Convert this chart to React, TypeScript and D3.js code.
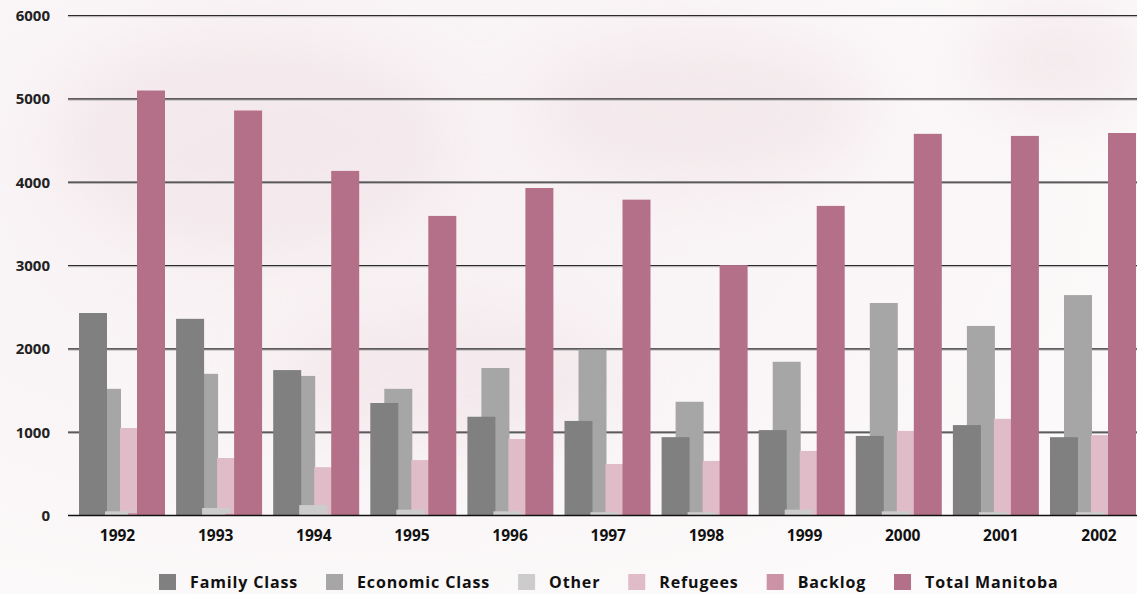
import React, { useEffect, useRef } from 'react';
import * as d3 from 'd3';

const years = ['1992', '1993', '1994', '1995', '1996', '1997', '1998', '1999', '2000', '2001', '2002'];

const familyClass = [2430, 2360, 1745, 1350, 1185, 1135, 940, 1025, 955, 1085, 940];
const economicClass = [1520, 1700, 1675, 1520, 1770, 1990, 1365, 1845, 2550, 2275, 2645];
const other = [50, 90, 125, 70, 50, 40, 40, 70, 50, 40, 40];
const refugees = [1050, 690, 580, 665, 918, 618, 655, 775, 1015, 1160, 965];
const backlog = [30, 20, 0, 0, 0, 0, 0, 0, 0, 0, 0];
const totalManitoba = [5100, 4860, 4135, 3595, 3930, 3790, 3005, 3715, 4580, 4555, 4590];

const yTicks = [0, 1000, 2000, 3000, 4000, 5000, 6000];

const series = [
  { name: 'Family Class', values: familyClass, color: '#808080' },
  { name: 'Economic Class', values: economicClass, color: '#a6a6a6' },
  { name: 'Other', values: other, color: '#cccccc' },
  { name: 'Refugees', values: refugees, color: '#dfbcc8' },
  { name: 'Backlog', values: backlog, color: '#cc93a7' },
  { name: 'Total Manitoba', values: totalManitoba, color: '#b57089' },
];

// stacking order of the overlapping bars (back to front)
const drawOrder = ['Economic Class', 'Family Class', 'Refugees', 'Other', 'Backlog', 'Total Manitoba'];

const W = 1137;
const H = 594;
const FONT = "'Open Sans', 'DejaVu Sans', sans-serif";

export default function App() {
  const svgRef = useRef<SVGSVGElement>(null);

  useEffect(() => {
    document.body.style.margin = '0';
    const svg = d3.select(svgRef.current);
    svg.selectAll('*').remove();

    // background, faint leafy texture
    const defs = svg.append('defs');
    const grad = defs.append('radialGradient').attr('id', 'bgGrad').attr('cx', '30%').attr('cy', '35%').attr('r', '80%');
    grad.append('stop').attr('offset', '0%').attr('stop-color', '#f7f0f2');
    grad.append('stop').attr('offset', '60%').attr('stop-color', '#faf6f7');
    grad.append('stop').attr('offset', '100%').attr('stop-color', '#fcfafa');
    defs.append('filter').attr('id', 'blur')
      .attr('x', '-50%').attr('y', '-50%').attr('width', '200%').attr('height', '200%')
      .append('feGaussianBlur').attr('stdDeviation', 30);
    svg.append('rect').attr('width', W).attr('height', H).attr('fill', 'url(#bgGrad)');

    const leaves = svg.append('g').attr('fill', '#f1e3e7').attr('opacity', 0.6).attr('filter', 'url(#blur)');
    leaves.append('ellipse').attr('cx', 250).attr('cy', 140).attr('rx', 200).attr('ry', 110);
    leaves.append('ellipse').attr('cx', 700).attr('cy', 110).attr('rx', 170).attr('ry', 80);
    leaves.append('ellipse').attr('cx', 1060).attr('cy', 60).attr('rx', 90).attr('ry', 60);
    leaves.append('ellipse').attr('cx', 450).attr('cy', 380).attr('rx', 180).attr('ry', 70);

    const y = d3.scaleLinear().domain([0, 6000]).range([515.5, 15.5]);
    const x = d3.scaleBand().domain(years).range([79, 79 + years.length * 97.1]).paddingInner(0);
    const xLabel = d3.scalePoint().domain(years).range([117.5, 1099]);
    const offset = d3.scaleOrdinal<string, number>()
      .domain(series.map((s) => s.name))
      .range([0, 14, 26, 41, 49, 58]);
    const barW = 28;

    // gridlines
    const grid = svg.append('g');
    yTicks.filter((t) => t > 0).forEach((t) => {
      grid.append('line')
        .attr('x1', 68).attr('x2', W).attr('y1', y(t) + 1.2).attr('y2', y(t) + 1.2)
        .attr('stroke', '#b0acad').attr('stroke-width', 1);
      grid.append('line')
        .attr('x1', 68).attr('x2', W).attr('y1', y(t)).attr('y2', y(t))
        .attr('stroke', '#2b2b2b').attr('stroke-width', 1.1);
    });

    // bars
    const bars = svg.append('g');
    drawOrder.forEach((name) => {
      const s = series.find((d) => d.name === name)!;
      bars.append('g')
        .selectAll('rect')
        .data(s.values.map((v, i) => ({ v, year: years[i] })))
        .enter()
        .append('rect')
        .attr('x', (d) => (x(d.year) as number) + offset(name))
        .attr('width', barW)
        .attr('y', (d) => y(d.v))
        .attr('height', (d) => y(0) - y(d.v))
        .attr('fill', s.color);
    });

    // baseline
    svg.append('line')
      .attr('x1', 68).attr('x2', W).attr('y1', y(0)).attr('y2', y(0))
      .attr('stroke', '#111').attr('stroke-width', 1.6);

    // y labels
    svg.append('g')
      .selectAll('text')
      .data(yTicks)
      .enter()
      .append('text')
      .attr('x', 50)
      .attr('y', (d) => y(d))
      .attr('dy', '0.36em')
      .attr('text-anchor', 'end')
      .attr('font-family', FONT)
      .attr('font-weight', 700)
      .attr('font-size', 15)
      .attr('fill', '#222')
      .text((d) => d);

    // x labels
    svg.append('g')
      .selectAll('text')
      .data(years)
      .enter()
      .append('text')
      .attr('x', (d) => xLabel(d) as number)
      .attr('y', 541)
      .attr('text-anchor', 'middle')
      .attr('font-family', FONT)
      .attr('font-weight', 700)
      .attr('font-size', 15.5)
      .attr('fill', '#111')
      .text((d) => d);

    // legend
    const legend = svg.append('g');
    let lx = 159;
    series.forEach((s) => {
      legend.append('rect').attr('x', lx).attr('y', 574).attr('width', 17).attr('height', 16).attr('fill', s.color);
      const t = legend.append('text')
        .attr('x', lx + 31)
        .attr('y', 588)
        .attr('font-family', FONT)
        .attr('font-weight', 700)
        .attr('font-size', 16)
        .attr('letter-spacing', 0.85)
        .attr('fill', '#111')
        .text(s.name);
      const tw = (t.node() as SVGTextElement).getComputedTextLength();
      lx = lx + 31 + tw + 28;
    });
  }, []);

  return (
    <svg
      ref={svgRef}
      width={W}
      height={H}
      style={{ position: 'absolute', left: 0, top: 0, display: 'block' }}
    />
  );
}
